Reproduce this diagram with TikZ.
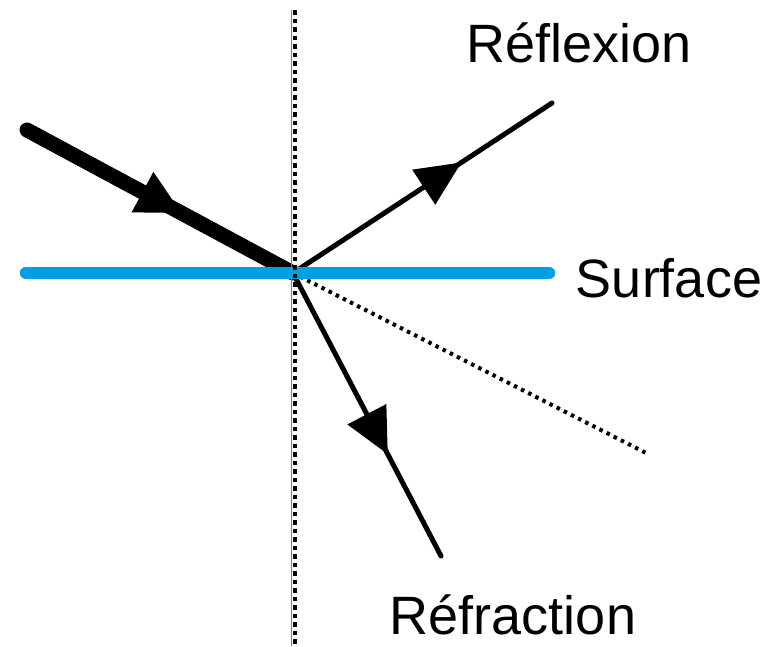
\documentclass[tikz,border=0pt]{standalone}
\usepackage{fontspec}
\setmainfont{Liberation Sans}
\usetikzlibrary{decorations.markings}
\definecolor{surf}{RGB}{0,160,227}
\begin{document}
\begin{tikzpicture}[x=1pt,y=-1pt,
  lbl/.style={inner sep=0pt, anchor=base, font=\fontsize{54}{60}\selectfont},
  midarrow/.style n args={3}{postaction={decorate},
    decoration={markings, mark=at position #1 with {\fill (-#2,#3) -- (-#2,-#3) -- (0pt,0pt) -- cycle;}}},
  ray/.style={line width=5pt, line cap=round},
  dotline/.style={line width=4pt, dash pattern=on 3.5pt off 4.5pt}
]
\useasboundingbox (0,0) rectangle (768,646);
\coordinate (O) at (293,273);
\coordinate (I) at (27,130);
\coordinate (R) at (552,103);
\coordinate (T) at (441,556);
\coordinate (D) at (648,454);
\coordinate (SL) at (26,273);
\coordinate (SR) at (549,273);
\coordinate (VT) at (293,10);
\coordinate (VB) at (293,646);
% dotted continuation
\draw[dotline] (O) -- (D);
% incident ray
\draw[line width=15pt, line cap=round, midarrow={0.58}{44pt}{23pt}] (I) -- (O);
% reflected ray
\draw[ray, midarrow={0.65}{45pt}{21pt}] (O) -- (R);
% refracted ray
\draw[ray, midarrow={0.64}{45pt}{22pt}] (O) -- (T);
% surface
\draw[surf, line width=12.5pt, line cap=round] (SL) -- (SR);
% normal
\draw[gray, line width=1pt] ([xshift=-1.5pt]VT) -- ([xshift=-1.5pt]VB);
\draw[line width=4.5pt, dash pattern=on 4.5pt off 4pt] ([xshift=1.8pt]VT) -- ([xshift=1.8pt]VB);
% labels
\node[lbl] (lr) at (579,62) {Réflexion};
\node[lbl] (ls) at (669,297) {Surface};
\node[lbl] (lt) at (513,634) {Réfraction};
\end{tikzpicture}
\end{document}
